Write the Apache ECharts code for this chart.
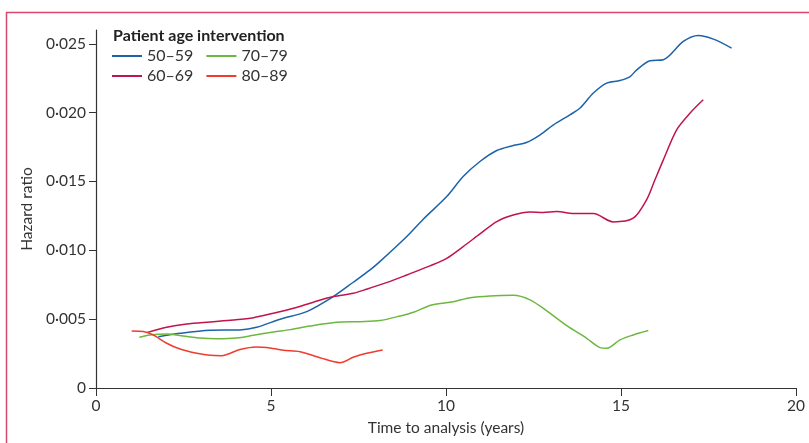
<!DOCTYPE html>
<html>
<head>
<meta charset="utf-8">
<script src="https://cdn.jsdelivr.net/npm/echarts@6/dist/echarts.min.js"></script>
<style>html,body{margin:0;padding:0;background:#fff}#c{width:809px;height:443px}</style>
</head>
<body>
<div id="c"></div>
<script>
const seriesNames = ['50–59', '60–69', '70–79', '80–89'];
const legendRow1 = ['50–59', '70–79'];
const legendRow2 = ['60–69', '80–89'];
const yTicks = [0, 0.005, 0.010, 0.015, 0.020, 0.025];
const xTicks = [0, 5, 10, 15, 20];

const x5059 = [1.78, 2.4, 3.26, 4.11, 4.59, 5.26, 6.02, 6.78, 7.35, 7.83, 8.11, 8.88, 9.35, 10.02, 10.49, 10.97, 11.45, 11.92, 12.3, 12.69, 13.07, 13.54, 13.83, 14.21, 14.59, 14.97, 15.26, 15.45, 15.83, 16.21, 16.78, 17.21, 17.64, 18.16];
const y5059 = [0.00373, 0.00397, 0.00419, 0.00422, 0.00441, 0.00499, 0.00555, 0.00664, 0.00768, 0.00858, 0.00918, 0.0110, 0.01226, 0.0139, 0.01536, 0.01645, 0.01725, 0.01761, 0.01783, 0.01839, 0.01911, 0.01984, 0.02033, 0.02142, 0.02214, 0.02233, 0.02262, 0.02311, 0.02377, 0.02384, 0.02517, 0.0256, 0.02534, 0.02469];

const x6069 = [1.45, 2.02, 2.59, 3.26, 3.92, 4.5, 5.07, 5.64, 6.21, 6.78, 7.35, 7.73, 8.3, 8.88, 9.54, 10.02, 10.49, 10.97, 11.45, 11.92, 12.4, 12.78, 13.16, 13.64, 14.21, 14.78, 15.35, 15.73, 15.97, 16.21, 16.59, 16.97, 17.35];
const y6069 = [0.00402, 0.00441, 0.00465, 0.0048, 0.00494, 0.00511, 0.00543, 0.00579, 0.00623, 0.00664, 0.00688, 0.00717, 0.00765, 0.00821, 0.00887, 0.00942, 0.01027, 0.01119, 0.01209, 0.01257, 0.01279, 0.01274, 0.01281, 0.01267, 0.01267, 0.01206, 0.01233, 0.01366, 0.01512, 0.01657, 0.01875, 0.01996, 0.02093];

const x7079 = [1.24, 1.54, 2.02, 2.49, 2.97, 3.45, 4.02, 4.5, 5.07, 5.54, 6.11, 6.88, 7.54, 8.11, 8.69, 9.07, 9.59, 10.21, 10.69, 11.26, 11.92, 12.4, 12.88, 13.45, 14.02, 14.4, 14.59, 14.97, 15.35, 15.78];
const y7079 = [0.00368, 0.00385, 0.00392, 0.00378, 0.00363, 0.00358, 0.00363, 0.00383, 0.00407, 0.00424, 0.0045, 0.00477, 0.00482, 0.0049, 0.00523, 0.0055, 0.00603, 0.00627, 0.00656, 0.00669, 0.00673, 0.0064, 0.0056, 0.00453, 0.00361, 0.00293, 0.00288, 0.00349, 0.00385, 0.00417];

const x8089 = [1.02, 1.35, 1.64, 2.02, 2.4, 2.88, 3.26, 3.59, 4.11, 4.59, 4.88, 5.35, 5.83, 6.4, 6.97, 7.35, 7.73, 8.19];
const y8089 = [0.00414, 0.0041, 0.00385, 0.00325, 0.00283, 0.00252, 0.00237, 0.00235, 0.0028, 0.00298, 0.00295, 0.00274, 0.00264, 0.0022, 0.00184, 0.00223, 0.00252, 0.00276];

const colors = ['#1c63aa', '#c0154b', '#6cb83e', '#f03c2e'];
const xs = [x5059, x6069, x7079, x8089];
const ys = [y5059, y6069, y7079, y8089];

const font = 'Lato';
const chart = echarts.init(document.getElementById('c'));
const legendBase = {
  left: 112, itemWidth: 30, itemHeight: 2, icon: 'rect', itemGap: 13,
  textStyle: {fontFamily: font, fontSize: 16, color: '#333'}, padding: 0
};
chart.setOption({
  animation: false,
  color: colors,
  title: {
    text: 'Patient age intervention', left: 113, top: 28,
    textStyle: {fontFamily: font, fontSize: 16, fontWeight: 'bold', color: '#222'}, padding: 0
  },
  legend: [
    Object.assign({}, legendBase, {data: legendRow1, top: 48}),
    Object.assign({}, legendBase, {data: legendRow2, top: 68})
  ],
  grid: {left: 96, right: 13, top: 30, bottom: 55, containLabel: false},
  xAxis: {
    type: 'value', min: 0, max: 20, interval: 5,
    name: 'Time to analysis (years)', nameLocation: 'middle', nameGap: 32,
    nameTextStyle: {fontFamily: font, fontSize: 15.5, color: '#333'},
    axisLine: {lineStyle: {color: '#333', width: 1.2}},
    axisTick: {show: true, length: 8, lineStyle: {color: '#333'}, customValues: xTicks},
    axisLabel: {fontFamily: font, fontSize: 15.5, color: '#333', margin: 10, customValues: xTicks},
    splitLine: {show: false}
  },
  yAxis: {
    type: 'value', min: 0, max: 0.026,
    name: 'Hazard ratio', nameLocation: 'middle', nameGap: 61,
    nameTextStyle: {fontFamily: font, fontSize: 15.5, color: '#333'},
    axisLine: {show: true, lineStyle: {color: '#333', width: 1.2}},
    axisTick: {show: true, length: 7, lineStyle: {color: '#333'}, customValues: yTicks},
    axisLabel: {
      fontFamily: font, fontSize: 15.5, color: '#333', margin: 10, customValues: yTicks,
      formatter: v => v === 0 ? '0' : v.toFixed(3).replace('.', '·')
    },
    splitLine: {show: false}
  },
  graphic: [{
    type: 'rect', silent: true, z: -1,
    shape: {x: 6.5, y: 12.5, width: 1000, height: 1000},
    style: {fill: 'none', stroke: '#d9466f', lineWidth: 1.5}
  }],
  series: seriesNames.map((n, i) => ({
    name: n, type: 'line', showSymbol: false, symbol: 'none', smooth: 0.3,
    lineStyle: {width: 1.5, color: colors[i]},
    itemStyle: {color: colors[i]},
    data: xs[i].map((x, j) => [x, ys[i][j]])
  }))
});
</script>
</body>
</html>
